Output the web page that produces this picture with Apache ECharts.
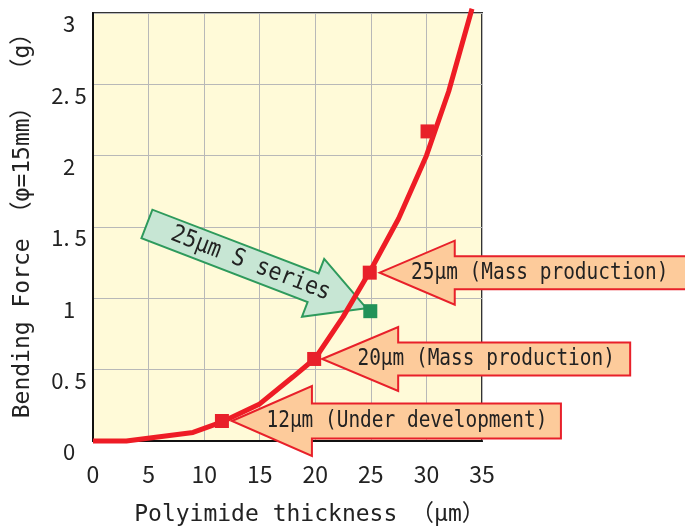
<!DOCTYPE html>
<html><head><meta charset="utf-8">
<script src="https://cdn.jsdelivr.net/npm/echarts@6/dist/echarts.min.js"></script>
<style>html,body{margin:0;padding:0;background:#fff}#c{width:685px;height:529px}</style>
</head><body><div id="c"></div>
<script>
// ---- data ----
const thickness = [0, 3, 9, 11.5, 15, 18, 20, 22.5, 25, 27.5, 30, 32, 34.1];
const force     = [0, 0, 0.06, 0.13, 0.26, 0.45, 0.58, 0.87, 1.2, 1.56, 2.0, 2.45, 3.03];
const sampleThickness = [11.6, 19.9, 24.9, 30.1];
const sampleForce     = [0.14, 0.575, 1.18, 2.17];
const sSeriesThickness = [24.95];
const sSeriesForce     = [0.91];
const calloutLabels  = ['25μm (Mass production)', '20μm (Mass production)', '12μm (Under development)'];
const calloutSample  = [2, 1, 0];
const sSeriesLabel   = '25μm S series';
const xTitle = 'Polyimide thickness （μm）';
const yTitle = 'Bending Force （φ=15mm） （g）';

// ---- layout / style (not data) ----
const calloutShapes = [
  {dx: 10, hl: 75, hh: 32, bh: 16.5, L: 312, tx: 160},
  {dx: 8,  hl: 76, hh: 32, bh: 16.5, L: 308, tx: 164},
  {dx: 10, hl: 80, hh: 35, bh: 17.5, L: 329, tx: 175}
];
const MONO = '"DejaVu Sans Mono", "Noto Sans CJK JP", monospace';
const LBL = '"Noto Sans CJK JP", "Noto Sans", sans-serif';

const chart = echarts.init(document.getElementById('c'));
chart.setOption({
  animation: false,
  grid: {left: 93, right: 203, top: 13, bottom: 88, show: true, containLabel: false,
         outerBoundsMode: 'none',
         backgroundColor: '#FFFAD8', borderColor: '#333', borderWidth: 2},
  xAxis: {type: 'value', min: 0, max: 35, interval: 5,
    name: xTitle, nameLocation: 'middle', nameGap: 63,
    nameTextStyle: {fontFamily: MONO, fontSize: 23, color: '#222', padding: [0, 0, 0, 44]},
    axisLine: {lineStyle: {color: '#111', width: 2}}, axisTick: {show: false},
    axisLabel: {fontFamily: LBL, fontSize: 23, color: '#222', margin: 22},
    splitLine: {lineStyle: {color: '#b8b8b8', width: 1}}},
  yAxis: {type: 'value', min: 0, max: 3, interval: 0.5,
    name: yTitle, nameLocation: 'middle', nameGap: 58, nameRotate: 90,
    nameTextStyle: {fontFamily: MONO, fontSize: 23, color: '#222', padding: [0, 0, 0, 14]},
    axisLine: {lineStyle: {color: '#111', width: 2}}, axisTick: {show: false},
    axisLabel: {fontFamily: LBL, fontSize: 22, color: '#222', margin: 24, align: 'center',
      verticalAlign: 'top',
      formatter: v => String(v).replace('.', '. ')},
    splitLine: {lineStyle: {color: '#b8b8b8', width: 1}}},
  series: [
    {type: 'line', data: thickness.map((t, i) => [t, force[i]]), showSymbol: false, symbol: 'none',
     clip: false, z: 5, lineStyle: {color: '#EE1C25', width: 5}},
    {type: 'scatter', data: sampleThickness.map((t, i) => [t, sampleForce[i]]), symbol: 'rect',
     symbolSize: 14, z: 6, itemStyle: {color: '#E8202A', opacity: 1}},
    {type: 'scatter', data: sSeriesThickness.map((t, i) => [t, sSeriesForce[i]]), symbol: 'rect',
     symbolSize: 14, z: 6, itemStyle: {color: '#229258', opacity: 1}}
  ]
});

const graphics = [];
calloutLabels.forEach((lab, k) => {
  const s = calloutShapes[k];
  const j = calloutSample[k];
  const p = chart.convertToPixel({gridIndex: 0}, [sampleThickness[j], sampleForce[j]]);
  const tx = p[0] + s.dx, ty = p[1];
  graphics.push({type: 'polygon', z: 1, shape: {points: [
      [tx, ty], [tx + s.hl, ty - s.hh], [tx + s.hl, ty - s.bh], [tx + s.L, ty - s.bh],
      [tx + s.L, ty + s.bh], [tx + s.hl, ty + s.bh], [tx + s.hl, ty + s.hh]]},
    style: {fill: '#FDCB9B', stroke: '#E8202A', lineWidth: 2}});
  graphics.push({type: 'text', z: 10, x: tx + s.tx, y: ty, scaleX: 0.845,
    style: {text: lab, fontFamily: MONO, fontSize: 23, fill: '#222', align: 'center', verticalAlign: 'middle'}});
});
// green arrow
(function () {
  const p = chart.convertToPixel({gridIndex: 0}, [sSeriesThickness[0], sSeriesForce[0]]);
  const tip = [p[0] - 4, p[1] - 3];
  const th = 21 * Math.PI / 180;
  const a = [Math.cos(th), Math.sin(th)], b = [-Math.sin(th), Math.cos(th)];
  const hl = 57, hh = 31, bh = 15.3, L = 235;
  const loc = [[0, 0], [-hl, -hh], [-hl, -bh], [-L, -bh], [-L, bh], [-hl, bh], [-hl, hh]];
  const pts = loc.map(q => [tip[0] + a[0] * q[0] + b[0] * q[1], tip[1] + a[1] * q[0] + b[1] * q[1]]);
  graphics.push({type: 'polygon', z: 1, shape: {points: pts},
    style: {fill: '#C7E6D4', stroke: '#2E9A5C', lineWidth: 2}});
  const c = [tip[0] - a[0] * 124, tip[1] - a[1] * 124];
  graphics.push({type: 'text', z: 10, x: c[0], y: c[1], rotation: -th, scaleX: 0.9,
    style: {text: sSeriesLabel, fontFamily: MONO, fontSize: 24, fill: '#222', align: 'center', verticalAlign: 'middle'}});
})();
chart.setOption({graphic: graphics});
</script></body></html>
